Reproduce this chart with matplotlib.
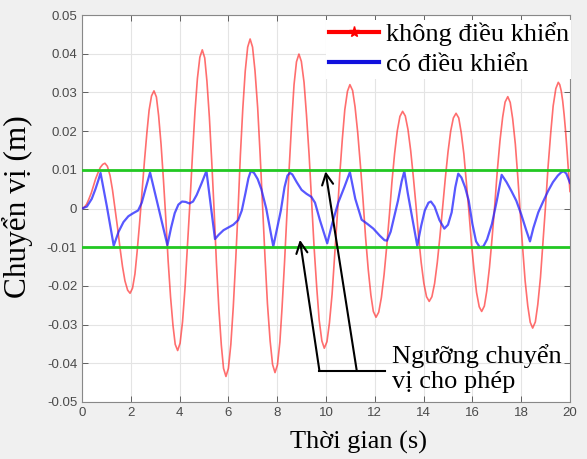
import matplotlib
matplotlib.use('Agg')
import matplotlib.pyplot as plt
from matplotlib.lines import Line2D

# uncontrolled response (red)
red_t = [0, 0.09, 0.19, 0.28, 0.38, 0.47, 0.56, 0.66, 0.75, 0.85, 0.94,
         1.04, 1.15, 1.25, 1.35, 1.46, 1.56, 1.66, 1.76, 1.87, 1.97,
         2.07, 2.17, 2.26, 2.36, 2.46, 2.56, 2.66, 2.75, 2.85, 2.95,
         3.05, 3.14, 3.24, 3.34, 3.44, 3.53, 3.63, 3.73, 3.82, 3.92,
         4.02, 4.12, 4.22, 4.32, 4.43, 4.53, 4.63, 4.73, 4.83, 4.93,
         5.03, 5.12, 5.22, 5.32, 5.42, 5.51, 5.61, 5.71, 5.80, 5.90,
         6.00, 6.10, 6.20, 6.30, 6.40, 6.49, 6.59, 6.69, 6.79, 6.89,
         6.99, 7.09, 7.20, 7.30, 7.40, 7.50, 7.60, 7.71, 7.81, 7.91,
         8.01, 8.11, 8.20, 8.30, 8.40, 8.50, 8.60, 8.69, 8.79, 8.89,
         8.99, 9.10, 9.20, 9.31, 9.41, 9.51, 9.62, 9.72, 9.83, 9.93,
         10.04, 10.14, 10.25, 10.35, 10.46, 10.56, 10.67, 10.77, 10.88, 10.98,
         11.09, 11.19, 11.30, 11.41, 11.52, 11.62, 11.73, 11.84, 11.94, 12.05,
         12.16, 12.27, 12.38, 12.49, 12.60, 12.70, 12.81, 12.92, 13.03, 13.14,
         13.25, 13.36, 13.47, 13.58, 13.69, 13.79, 13.90, 14.01, 14.12, 14.23,
         14.34, 14.45, 14.56, 14.67, 14.78, 14.89, 15.00, 15.11, 15.22, 15.33,
         15.44, 15.54, 15.65, 15.75, 15.86, 15.96, 16.07, 16.17, 16.28, 16.38,
         16.49, 16.59, 16.70, 16.81, 16.92, 17.02, 17.13, 17.24, 17.34, 17.45,
         17.55, 17.65, 17.76, 17.86, 17.96, 18.06, 18.16, 18.27, 18.37, 18.47,
         18.58, 18.68, 18.79, 18.89, 19.00, 19.10, 19.21, 19.31, 19.42, 19.52,
         19.58, 19.64, 19.70, 19.76, 19.82, 19.88, 19.94, 20.0]
red_v = [0, 0.0003, 0.0011, 0.0024, 0.0040, 0.0059, 0.0077, 0.0093, 0.0106, 0.0114, 0.0117,
         0.0109, 0.0085, 0.0048, 0.0001, -0.0051, -0.0103, -0.0150, -0.0187, -0.0211, -0.0219,
         -0.0206, -0.0169, -0.0111, -0.0038, 0.0043, 0.0123, 0.0196, 0.0254, 0.0291, 0.0304,
         0.0288, 0.0240, 0.0166, 0.0072, -0.0032, -0.0135, -0.0229, -0.0303, -0.0351, -0.0367,
         -0.0348, -0.0293, -0.0207, -0.0099, 0.0022, 0.0142, 0.0250, 0.0336, 0.0391, 0.0410,
         0.0389, 0.0329, 0.0236, 0.0118, -0.0012, -0.0142, -0.0260, -0.0353, -0.0413, -0.0434,
         -0.0413, -0.0351, -0.0254, -0.0133, 0.0002, 0.0137, 0.0258, 0.0355, 0.0417, 0.0438,
         0.0417, 0.0356, 0.0260, 0.0140, 0.0007, -0.0126, -0.0246, -0.0342, -0.0403, -0.0424,
         -0.0404, -0.0345, -0.0255, -0.0140, -0.0013, 0.0115, 0.0230, 0.0320, 0.0379, 0.0399,
         0.0380, 0.0326, 0.0242, 0.0136, 0.0019, -0.0098, -0.0204, -0.0288, -0.0342, -0.0361,
         -0.0344, -0.0296, -0.0221, -0.0126, -0.0021, 0.0085, 0.0180, 0.0255, 0.0303, 0.0320,
         0.0305, 0.0263, 0.0196, 0.0112, 0.0020, -0.0073, -0.0157, -0.0224, -0.0266, -0.0281,
         -0.0268, -0.0230, -0.0171, -0.0097, -0.0015, 0.0067, 0.0141, 0.0200, 0.0238, 0.0251,
         0.0239, 0.0204, 0.0150, 0.0081, 0.0006, -0.0070, -0.0139, -0.0193, -0.0228, -0.0240,
         -0.0228, -0.0194, -0.0140, -0.0072, 0.0003, 0.0078, 0.0146, 0.0200, 0.0234, 0.0246,
         0.0234, 0.0197, 0.0141, 0.0069, -0.0010, -0.0089, -0.0161, -0.0217, -0.0254, -0.0266,
         -0.0252, -0.0213, -0.0152, -0.0074, 0.0012, 0.0097, 0.0175, 0.0236, 0.0275, 0.0289,
         0.0274, 0.0232, 0.0166, 0.0082, -0.0010, -0.0102, -0.0186, -0.0252, -0.0294, -0.0309,
         -0.0293, -0.0248, -0.0178, -0.0090, 0.0009, 0.0107, 0.0195, 0.0265, 0.0310, 0.0326,
         0.0320, 0.0304, 0.0278, 0.0242, 0.0199, 0.0148, 0.0093, 0.0044]

# controlled response (blue)
blue_t = [0.00, 0.20, 0.40, 0.55, 0.68, 0.76, 1.02, 1.30, 1.50, 1.70, 1.90, 2.10, 2.30, 2.45, 2.60,
          2.79, 3.15, 3.50, 3.65, 3.80, 3.95, 4.10, 4.25, 4.40, 4.55, 4.70, 4.90, 5.10, 5.45, 5.60,
          5.80, 6.00, 6.20, 6.40, 6.55, 6.70, 6.82, 6.92, 7.05, 7.20, 7.35, 7.55, 7.84, 8.00, 8.15,
          8.30, 8.42, 8.52, 8.62, 8.80, 9.00, 9.20, 9.40, 9.55, 9.75, 9.90, 10.05, 10.25, 10.50,
          10.75, 10.98, 11.20, 11.46, 11.70, 11.94, 12.20, 12.40, 12.50, 12.65, 12.80, 12.95, 13.10,
          13.21, 13.35, 13.74, 13.90, 14.05, 14.20, 14.30, 14.45, 14.65, 14.85, 15.00, 15.15, 15.30,
          15.42, 15.55, 15.70, 15.85, 16.00, 16.15, 16.30, 16.45, 16.60, 16.80, 17.00, 17.20, 17.40,
          17.60, 17.80, 18.00, 18.20, 18.36, 18.50, 18.70, 18.90, 19.10, 19.30, 19.50, 19.65, 19.75,
          19.85, 20.00]
blue_v = [0.0000, 0.0005, 0.0025, 0.0050, 0.0075, 0.0092, 0.0005, -0.0096, -0.0060, -0.0035,
          -0.0020, -0.0012, -0.0005, 0.0015, 0.0050, 0.0093, -0.0002, -0.0095, -0.0050, -0.0012,
          0.0010, 0.0018, 0.0017, 0.0013, 0.0018, 0.0035, 0.0065, 0.0097, -0.0079, -0.0068,
          -0.0056, -0.0049, -0.0042, -0.0030, -0.0005, 0.0040, 0.0078, 0.0097, 0.0092, 0.0076,
          0.0050, 0.0000, -0.0098, -0.0050, -0.0005, 0.0055, 0.0085, 0.0092, 0.0088, 0.0068,
          0.0048, 0.0038, 0.0030, 0.0015, -0.0030, -0.0060, -0.0090, -0.0040, 0.0015, 0.0055,
          0.0094, 0.0025, -0.0029, -0.0040, -0.0052, -0.0070, -0.0082, -0.0083, -0.0060, -0.0020,
          0.0020, 0.0070, 0.0096, 0.0040, -0.0096, -0.0045, -0.0005, 0.0015, 0.0018, 0.0005,
          -0.0030, -0.0052, -0.0042, -0.0010, 0.0055, 0.0090, 0.0080, 0.0055, 0.0020, -0.0040,
          -0.0085, -0.0100, -0.0098, -0.0080, -0.0040, 0.0020, 0.0087, 0.0068, 0.0045, 0.0020,
          -0.0015, -0.0055, -0.0085, -0.0050, -0.0010, 0.0018, 0.0045, 0.0068, 0.0085, 0.0094,
          0.0096, 0.0090, 0.0066]

threshold = 0.01
legend_labels = ['không điều khiển', 'có điều khiển']
note_text = 'Ngưỡng chuyển\nvị cho phép'

serif = 'Liberation Serif'
plt.rcParams['font.family'] = ['Liberation Sans', 'DejaVu Sans']

fig = plt.figure(figsize=(5.87, 4.59), dpi=100, facecolor='#f0f0f0')
ax = fig.add_axes([82 / 587, 1 - 402 / 459, 488 / 587, 387 / 459])

ax.plot(red_t, red_v, color='#ff3030', lw=1.2, alpha=0.7, zorder=3)
ax.plot(blue_t, blue_v, color='#2020ff', lw=1.6, alpha=0.75, zorder=4)
ax.axhline(threshold, color='#22c822', lw=2, zorder=5)
ax.axhline(-threshold, color='#22c822', lw=2, zorder=5)

ax.set_xlim(0, 20)
ax.set_ylim(-0.05, 0.05)
ax.set_xticks(range(0, 21, 2))
ax.set_yticks([-0.05, -0.04, -0.03, -0.02, -0.01, 0, 0.01, 0.02, 0.03, 0.04, 0.05])
ax.set_yticklabels(['-0.05', '-0.04', '-0.03', '-0.02', '-0.01', '0',
                    '0.01', '0.02', '0.03', '0.04', '0.05'])
ax.grid(True, color='#e4e4e4', lw=0.8)
ax.set_axisbelow(True)
ax.tick_params(direction='in', top=True, right=True, labelsize=9.5,
               colors='#4a4a4a', length=4, width=0.6)
for s in ax.spines.values():
    s.set_color('#888888')
    s.set_linewidth(0.8)

ax.set_xlabel('Thời gian (s)', fontfamily=serif, fontsize=19)
ax.xaxis.set_label_coords((359 - 82) / 488, -0.075)
ax.set_ylabel('Chuyển vị (m)', fontfamily=serif, fontsize=22.5)
ax.yaxis.set_label_coords(-0.100, 0.505)

handles = [Line2D([], [], color='red', lw=3, marker='*', markersize=8),
           Line2D([], [], color='#1010dd', lw=3)]
leg = ax.legend(handles, legend_labels, loc='upper right', frameon=True,
                bbox_to_anchor=(1.008, 0.995),
                prop={'family': serif, 'size': 19}, handlelength=1.9,
                handletextpad=0.25, labelspacing=0.25, borderaxespad=0.1,
                borderpad=0.1, fancybox=False)
leg.get_frame().set_edgecolor('none')
leg.get_frame().set_facecolor('white')
leg.get_frame().set_alpha(1)
leg.set_zorder(6)

# annotation arrows pointing at the thresholds
ax.plot([9.73, 12.42], [-0.0419, -0.0419], color='black', lw=1.5, zorder=7)
ax.annotate('', xy=(9.98, 0.0096), xytext=(11.26, -0.0419),
            arrowprops=dict(arrowstyle='->', color='black', lw=1.5,
                            mutation_scale=20, shrinkA=0, shrinkB=0), zorder=7)
ax.annotate('', xy=(8.93, -0.0081), xytext=(9.73, -0.0419),
            arrowprops=dict(arrowstyle='->', color='black', lw=1.5,
                            mutation_scale=20, shrinkA=0, shrinkB=0), zorder=7)
ax.text(12.7, -0.0414, note_text, fontfamily=serif, fontsize=19,
        va='center', ha='left', linespacing=1.2, zorder=8)

fig.savefig('out.png', dpi=100, facecolor=fig.get_facecolor())
